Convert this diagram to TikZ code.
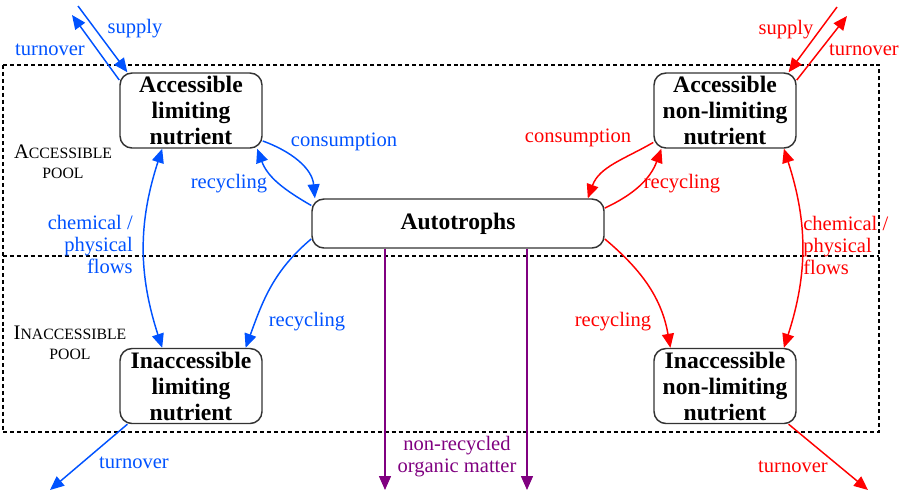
\documentclass[tikz,border=0pt]{standalone}
\usepackage{fontspec}
\setmainfont{Liberation Serif}
\usetikzlibrary{arrows.meta}
\definecolor{limblue}{RGB}{0,82,255}
\definecolor{omviolet}{RGB}{128,0,128}
\newcommand{\poolsc}[1]{{\fontsize{11.8}{15}\selectfont #1}}
\tikzset{
    pool/.style={draw=black!80, line width=1.1pt, rounded corners=9pt, align=center, inner sep=0pt,
        minimum width=106.5pt, minimum height=56.25pt, font=\fontsize{17.7}{19.5}\selectfont\bfseries},
    flow/.style={line width=1.1pt, -{Triangle[length=10.5pt,width=9pt]}},
    twoway/.style={line width=1.1pt, {Triangle[length=10.5pt,width=9pt]}-{Triangle[length=10.5pt,width=9pt]}},
    lbl/.style={inner sep=0pt, align=center, font=\fontsize{15.4}{16.5}\selectfont},
}
\begin{document}
\begin{tikzpicture}[x=0.75pt, y=-0.75pt]
    \useasboundingbox (0,0) rectangle (899,494);

    \draw[dash pattern=on 3pt off 2.2pt, line width=0.8pt] (3,65) rectangle (879,432);
    \draw[dash pattern=on 3pt off 2.2pt, line width=0.8pt] (3,256) -- (879,256);

    \node[lbl, font=\fontsize{15.5}{15}\selectfont] (acc) at (63,162) {A\poolsc{CCESSIBLE}\\\poolsc{POOL}};
    \node[lbl, font=\fontsize{15.5}{15}\selectfont] (inacc) at (70,343) {I\poolsc{NACCESSIBLE}\\\poolsc{POOL}};

    \node[pool] (alim) at (191,110.5) {Accessible\\limiting\\nutrient};
    \node[pool] (anl) at (725,110.5) {Accessible\\non-limiting\\nutrient};
    \node[pool] (ilim) at (191,386) {Inaccessible\\limiting\\nutrient};
    \node[pool] (inl) at (725,386) {Inaccessible\\non-limiting\\nutrient};
    \node[pool, minimum width=219pt, minimum height=36.75pt] (auto) at (458,223.5) {Autotrophs};

    \coordinate (bsup) at (78,6);
    \coordinate (bturn) at (72,15);
    \coordinate (bout) at (50,490);
    \coordinate (rsup) at (837,7);
    \coordinate (rturn) at (847,16);
    \coordinate (rout) at (868,490);
    \coordinate (om1) at (385,490);
    \coordinate (om2) at (527,490);

    \begin{scope}[every node/.style={lbl, text=limblue}, draw=limblue, fill=limblue]
        \draw[flow] (bsup) -- (alim.149);
        \draw[flow] (alim.157) -- (bturn);
        \draw[flow] (alim.-23) to[out=-20, in=95] (auto.170);
        \draw[flow] (auto.173) to[out=150, in=-70] (alim.-30);
        \draw[twoway] (alim.-127) to[out=-108, in=108] (ilim.127);
        \draw[flow] (auto.-174) to[out=-140, in=70] (ilim.35);
        \draw[flow] (ilim.-149) -- (bout);

        \node (bsupl) at (135,29) {supply};
        \node (bturnl) at (50,50) {turnover};
        \node (bconl) at (344,142) {consumption};
        \node (brecl) at (229,184) {recycling};
        \node[anchor=east, align=right] (bchem) at (133,244) {chemical /\\physical\\flows};
        \node (brecl2) at (307,322) {recycling};
        \node (boutl) at (134,463) {turnover};
    \end{scope}

    \begin{scope}[every node/.style={lbl, text=red}, draw=red, fill=red]
        \draw[flow] (rsup) -- (anl.31);
        \draw[flow] (anl.23) -- (rturn);
        \draw[flow] (anl.-156) to[out=-150, in=70] (auto.11);
        \draw[flow] (auto.6) to[out=25, in=-110] (anl.-149);
        \draw[twoway] (anl.-33) to[out=-72, in=72] (inl.33);
        \draw[flow] (auto.-6) to[out=-40, in=100] (inl.145);
        \draw[flow] (inl.-31) -- (rout);

        \node (rsupl) at (786,30) {supply};
        \node (rturnl) at (864,50) {turnover};
        \node (rconl) at (578,138) {consumption};
        \node (rrecl) at (682,184) {recycling};
        \node[anchor=west, align=left] (rchem) at (803,245) {chemical /\\physical\\flows};
        \node (rrecl2) at (613,322) {recycling};
        \node (routl) at (793,467) {turnover};
    \end{scope}

    \draw[flow, draw=omviolet, fill=omviolet] (om1 |- auto.south) -- (om1);
    \draw[flow, draw=omviolet, fill=omviolet] (om2 |- auto.south) -- (om2);
    \node[lbl, text=omviolet] (oml) at (457,457) {non-recycled\\organic matter};
\end{tikzpicture}
\end{document}
